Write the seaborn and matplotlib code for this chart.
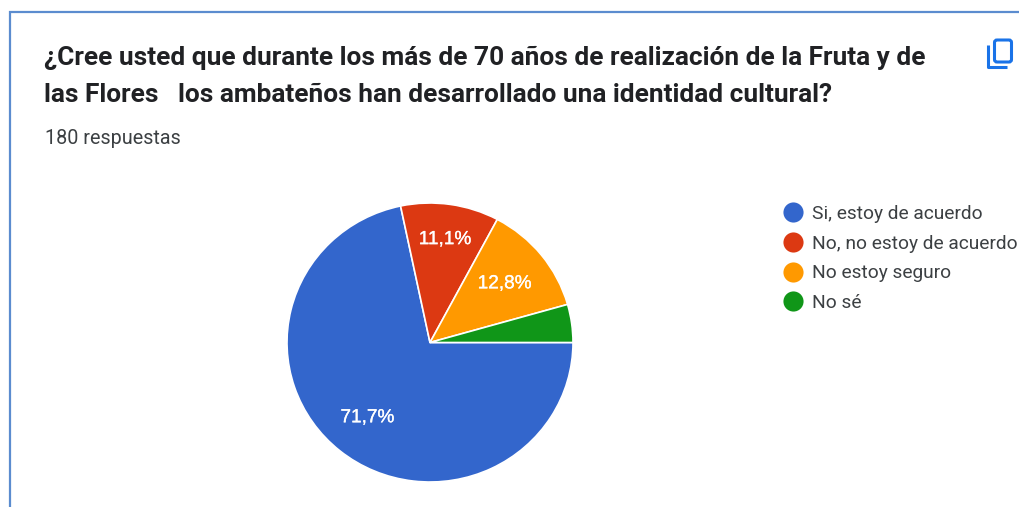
import matplotlib
matplotlib.use("Agg")
import matplotlib.pyplot as plt
import matplotlib.patheffects as pe
from matplotlib.lines import Line2D
from matplotlib.patches import FancyBboxPatch
import numpy as np
import seaborn as sns

categories = ["Si, estoy de acuerdo", "No, no estoy de acuerdo", "No estoy seguro", "No sé"]
values = [71.7, 11.1, 12.8, 4.4]
colors = ["#3366cc", "#dc3912", "#ff9900", "#109618"]
title_lines = ["¿Cree usted que durante los más de 70 años de realización de la Fruta y de",
               "las Flores   los ambateños han desarrollado una identidad cultural?"]
subtitle = "180 respuestas"

sns.set_theme(style="white", palette=sns.color_palette(colors))
plt.rcParams["font.family"] = ["Roboto", "DejaVu Sans"]

W, H = 1019, 507
fig = plt.figure(figsize=(W / 100, H / 100), dpi=100, facecolor="white")

# overlay in pixel coordinates
bg = fig.add_axes([0, 0, 1, 1])
bg.set_xlim(0, W); bg.set_ylim(H, 0); bg.axis("off")
bg.plot([10.5, 10.5, W], [H, 11.5, 11.5], color="#5b8ccf", lw=1.6, solid_joinstyle="miter")
bg.text(44.5, 58, title_lines[0], fontsize=18.9, fontweight="bold", color="#202124", va="center", ha="left")
bg.text(44.5, 95, title_lines[1], fontsize=18.9, fontweight="bold", color="#202124", va="center", ha="left")
bg.text(45, 138, subtitle, fontsize=14.2, color="#3c4043", va="center", ha="left")

# copy icon
icon = "#1a73e8"
bg.add_patch(FancyBboxPatch((994.5, 40), 17, 22, boxstyle="round,pad=0,rounding_size=2.5",
                            fill=False, ec=icon, lw=2.2))
bg.plot([988.5, 988.5, 1007], [45, 67, 67], color=icon, lw=2.2, solid_capstyle="butt", solid_joinstyle="round")

# pie: centre (430, 342.5), radii 143 x 139.5 px
cx, cy, rx, ry = 430, 342.5, 143, 139.5
ax = fig.add_axes([(cx - rx) / W, 1 - (cy + ry) / H, 2 * rx / W, 2 * ry / H])
wedges, _, autotexts = ax.pie(
    values, colors=colors, startangle=0, counterclock=False, radius=1,
    autopct=lambda p: f"{p:.1f}%".replace(".", ",") if p > 5 else "",
    pctdistance=0.7, wedgeprops=dict(edgecolor="white", linewidth=1.2),
    textprops=dict(color="white", fontsize=13.7, family="Liberation Sans"))
ax.set_aspect("auto")
ax.set_xlim(-1, 1); ax.set_ylim(-1, 1)
for w, t, d in zip(wedges, autotexts, [0.695, 0.745, 0.67, 0.7]):
    w.set_clip_on(False)
    a = np.deg2rad((w.theta1 + w.theta2) / 2)
    t.set_position((d * np.cos(a), d * np.sin(a)))
    t.set_path_effects([pe.withStroke(linewidth=0.2, foreground="white")])

handles = [Line2D([], [], marker="o", ls="", color=c, markersize=14.5, markeredgewidth=0) for c in colors]
leg = bg.legend(handles, categories, loc="upper left", bbox_to_anchor=(776.5 / W, 1 - 201 / H),
                bbox_transform=fig.transFigure, frameon=False, fontsize=13.8, labelspacing=0.61,
                handletextpad=0.3, handlelength=1.33, borderaxespad=0, borderpad=0.2,
                labelcolor="#3c4043")

fig.savefig("out.png", dpi=100)
